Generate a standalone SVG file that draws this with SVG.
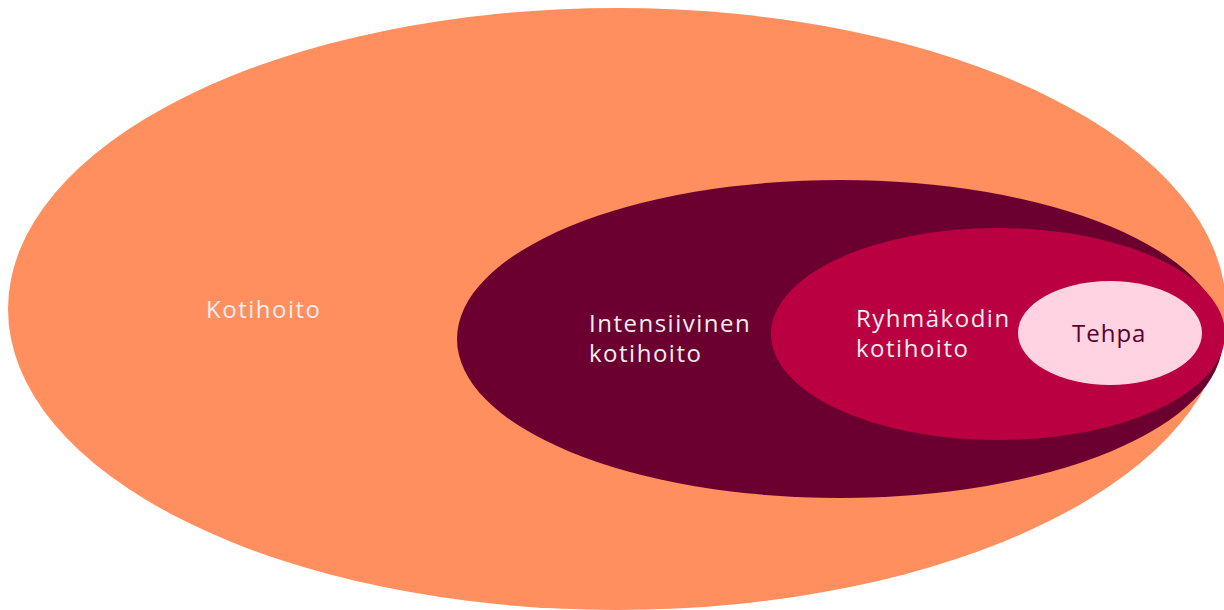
<svg xmlns="http://www.w3.org/2000/svg" width="1224" height="610" viewBox="0 0 1224 610">
<style>
text{font-family:"Open Sans","Noto Sans","Liberation Sans",sans-serif;font-size:24px;letter-spacing:1.5px}
.w{fill:#f4ecee}
.d{fill:#5c0029;letter-spacing:1px}
</style>
<rect width="1224" height="610" fill="#ffffff"/>
<g id="kotihoito"><ellipse cx="617" cy="309" rx="609" ry="301" fill="#ff8f5f"/><text class="w" x="206" y="318">Kotihoito</text></g>
<g id="intensiivinen"><ellipse cx="840" cy="339" rx="383" ry="159" fill="#6b0030"/><text class="w" x="589" y="332">Intensiivinen</text><text class="w" x="589" y="362">kotihoito</text></g>
<g id="ryhmakodin"><ellipse cx="998" cy="334" rx="227" ry="106" fill="#ba0040"/><text class="w" x="856" y="327">Ryhmäkodin</text><text class="w" x="856" y="357">kotihoito</text></g>
<g id="tehpa"><ellipse cx="1110" cy="333" rx="92" ry="52" fill="#ffd3e2"/><text class="d" x="1072" y="342">Tehpa</text></g>
<g id="connectors"/>
</svg>
